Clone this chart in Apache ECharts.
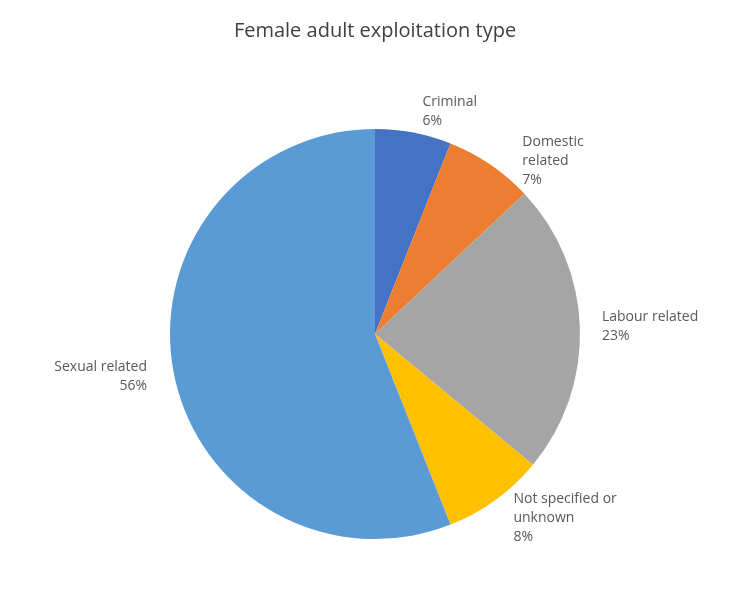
<!DOCTYPE html>
<html><head><meta charset="utf-8">
<script src="https://cdn.jsdelivr.net/npm/echarts@6/dist/echarts.min.js"></script>
<style>html,body{margin:0;padding:0;background:#fff}#c{width:750px;height:608px}</style>
</head><body><div id="c"></div>
<script>
const categories = ["Criminal","Domestic related","Labour related","Not specified or unknown","Sexual related"];
const labelText = ["Criminal","Domestic\nrelated","Labour related","Not specified or\nunknown","Sexual related"];
const values = [6,7,23,8,56];
const colors = ["#4472C4","#ED7D31","#A5A5A5","#FFC000","#5B9BD5"];
const chart = echarts.init(document.getElementById('c'));
chart.setOption({
  animation:false,
  title:{text:"Female adult exploitation type",left:'center',top:16,textStyle:{fontFamily:"Open Sans",fontSize:20,fontWeight:'normal',color:'#404040'}},
  series:[{
    type:'pie',center:[375,334],radius:205,startAngle:90,clockwise:true,
    data:categories.map((n,i)=>({name:n,value:values[i],itemStyle:{color:colors[i]}})),
    itemStyle:{borderColor:'#fff',borderWidth:0},
    label:{show:true,position:'outside',formatter:p=>labelText[p.dataIndex]+"\n"+p.value+"%",
      fontFamily:"Open Sans",fontSize:14,color:'#595959',lineHeight:19,align:'center'},
    labelLine:{show:false,length:22,length2:0}
  }]
});
</script></body></html>
